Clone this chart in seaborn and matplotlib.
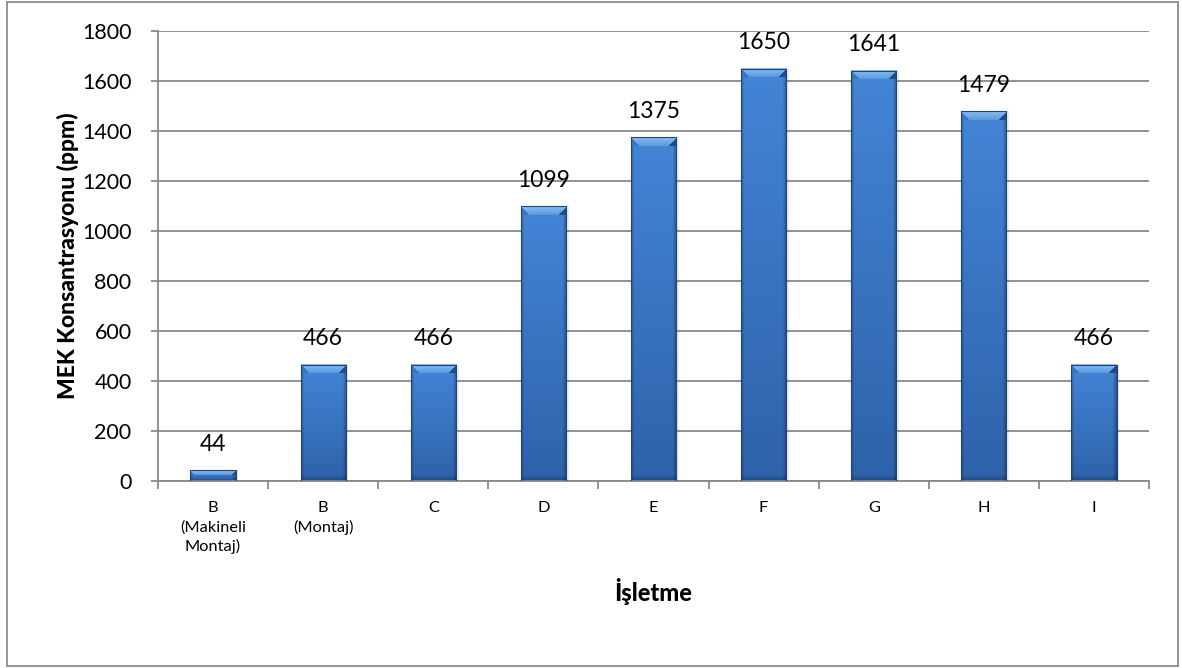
import numpy as np
import matplotlib
matplotlib.use("Agg")
import matplotlib.pyplot as plt
from matplotlib.patches import Rectangle
from matplotlib.colors import to_rgb
import seaborn as sns

# Measured MEK concentration per workplace
categories = ["B\n(Makineli\nMontaj)", "B\n(Montaj)", "C", "D", "E", "F", "G", "H", "I"]
values = [44, 466, 466, 1099, 1375, 1650, 1641, 1479, 466]
y_ticks = [0, 200, 400, 600, 800, 1000, 1200, 1400, 1600, 1800]

sns.set_theme(style="white")
plt.rcParams["font.family"] = ["Lato", "DejaVu Sans"]

GRID = "#898989"
TEXT = "#000000"

fig = plt.figure(figsize=(11.82, 6.68), dpi=100)
ax = fig.add_axes([158 / 1182, 1 - 481 / 668, (1149 - 158) / 1182, (481 - 31) / 668])

sns.barplot(x=categories, y=values, color="#4a7ebb", width=0.41, ax=ax,
            saturation=1, zorder=3)

ax.set_ylim(0, 1800)
ax.set_xlim(-0.5, len(categories) - 0.5)
ax.set_yticks(y_ticks)
ax.set_yticklabels([str(t) for t in y_ticks], fontsize=15.5, color=TEXT)
ax.yaxis.grid(True, color=GRID, linewidth=1.3)
ax.set_axisbelow(True)

# Category labels centred under bars, tick marks at category boundaries
ax.set_xticks(range(len(categories)))
ax.set_xticklabels(categories, fontsize=11.8, color=TEXT, linespacing=1.42)
ax.tick_params(axis="x", which="major", length=0, pad=14.5)
ax.set_xticks(np.arange(-0.5, len(categories)), minor=True)
ax.tick_params(axis="x", which="minor", length=5.5, width=1.3, color=GRID, bottom=True)
ax.tick_params(axis="y", which="major", length=5, width=1.3, color=GRID, left=True, pad=14)

for side in ["top", "right"]:
    ax.spines[side].set_visible(False)
for side in ["left", "bottom"]:
    ax.spines[side].set_color(GRID)
    ax.spines[side].set_linewidth(1.3)

ax.set_ylabel("MEK Konsantrasyonu (ppm)", fontsize=16.5, fontweight=900, color=TEXT)
ax.yaxis.set_label_coords(-0.08, 0.5)
ax.set_xlabel("İşletme", fontsize=17, fontweight=900, color=TEXT)
ax.xaxis.set_label_coords(0.5, -0.215)

fig.canvas.draw()


def bevel_image(wp, hp):
    """RGBA image of a bevelled blue column, wp x hp pixels."""
    top_c = np.array(to_rgb("#4485d6"))
    bot_c = np.array(to_rgb("#2e62aa"))
    top_hi = np.array(to_rgb("#86bdf2"))
    top_lo = np.array(to_rgb("#5c9ae0"))
    side_c = np.array(to_rgb("#3a73c0"))
    edge_c = np.array(to_rgb("#224c88"))
    # vertical shading: lighter at the top, darker at the base
    v = np.linspace(0, 1, hp)[:, None, None]
    img = top_c[None, None, :] * (1 - v) + bot_c[None, None, :] * v
    img = np.tile(img, (1, wp, 1))
    # horizontal shading: edges darker
    x = np.arange(wp)
    fac = np.ones(wp)
    fac = np.minimum(fac, 0.78 + 0.22 * np.clip(x / 3.0, 0, 1))
    fac = np.minimum(fac, 0.70 + 0.30 * np.clip((wp - 1 - x) / 4.0, 0, 1))
    img = img * fac[None, :, None]
    # top bevel: light trapezoid with diagonal corners
    b = min(9, max(hp // 2, 1))
    for r in range(b):
        f = r / max(b - 1, 1)
        c = top_hi * (1 - f) + top_lo * f
        lo, hi = r, wp - r
        if hi > lo:
            img[r, lo:hi] = c
        img[r, :lo] = side_c
        img[r, hi:] = edge_c
    # bottom bevel: darker strip
    bb = min(5, max(hp // 3, 0))
    for r in range(bb):
        rr = hp - 1 - r
        img[rr] = img[rr] * (0.92 - 0.03 * (bb - r))
    alpha = np.ones((hp, wp, 1))
    return np.concatenate([np.clip(img, 0, 1), alpha], axis=2)


for patch in list(ax.patches):
    x0, y0 = patch.get_x(), patch.get_y()
    w, h = patch.get_width(), patch.get_height()
    (px0, py0), (px1, py1) = ax.transData.transform([(x0, y0), (x0 + w, y0 + h)])
    wp = max(int(round(px1 - px0)), 2)
    hp = max(int(round(py1 - py0)), 2)
    # soft shadow to the right
    ax.add_patch(Rectangle((x0 + w, y0), 0.025, h, facecolor="#000000",
                           alpha=0.08, edgecolor="none", zorder=2))
    ax.imshow(bevel_image(wp, hp), extent=[x0, x0 + w, y0, y0 + h], origin="upper",
              aspect="auto", interpolation="nearest", zorder=2.5)
    patch.set_facecolor("none")
    patch.set_edgecolor("#1f4478")
    patch.set_linewidth(0.8)
    patch.set_zorder(3)

ax.set_xlim(-0.5, len(categories) - 0.5)
ax.set_ylim(0, 1800)

# Value labels above bars
for i, v in enumerate(values):
    ax.annotate(str(v), xy=(i, v), xytext=(0, 14), textcoords="offset points",
                ha="center", va="baseline", fontsize=16.5, color=TEXT)

# Chart frame
fig.patches.append(Rectangle((7 / 1182, 2 / 668), (1178 - 7) / 1182, (666 - 2) / 668,
                             transform=fig.transFigure, facecolor="none",
                             edgecolor="#8c8c8c", linewidth=1.3, zorder=0))

fig.savefig("out.png", dpi=100)
